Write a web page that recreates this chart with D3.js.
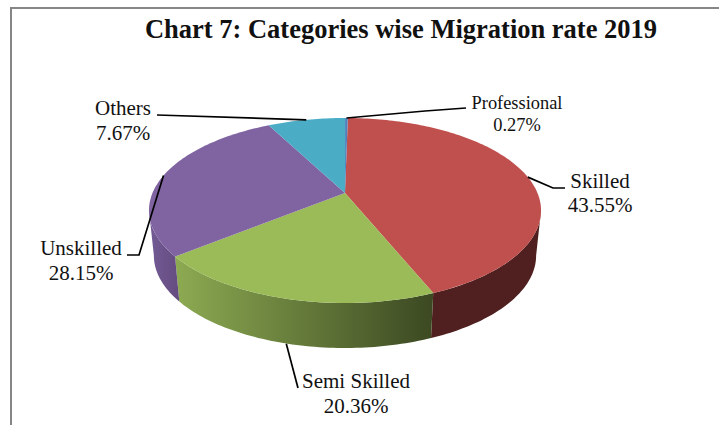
<!DOCTYPE html>
<html>
<head>
<meta charset="utf-8">
<script src="https://cdnjs.cloudflare.com/ajax/libs/d3/7.8.5/d3.min.js"></script>
<style>
  html, body { margin: 0; padding: 0; background: #fff; }
  text { font-family: "Liberation Serif", serif; fill: #111; }
</style>
</head>
<body>
<svg id="chart" width="719" height="425"></svg>
<script>
var CATEGORIES = ['Skilled', 'Semi Skilled', 'Unskilled', 'Others', 'Professional'];
var RATES = [43.55, 20.36, 28.15, 7.67, 0.27];
var TOP_COLORS = ['#c0504d', '#9bbb59', '#8064a2', '#4bacc6', '#4f81bd'];
var SIDE_COLORS = ['#4f201f', 'url(#greenSide)', 'url(#purpleSide)', '#2f7a8f', '#3a5f8c'];

var svg = d3.select('#chart');

// tilted pie: far edge is drawn smaller than the near edge
var cx = 345, cy = 193;
var radiusX = 192.5, radiusY = 89.2, persp = 0.189;
var depth = 45, bottomShrink = 0.975;
var rotation = Math.PI / 180;

function project(a, drop, shrink) {
  var w = 1 + persp * Math.cos(a);
  return [
    cx + shrink * radiusX * Math.sin(a) / w,
    cy + drop - radiusY * Math.cos(a) / w
  ];
}

function samples(a0, a1) {
  var n = Math.max(2, Math.ceil(Math.abs(a1 - a0) / 0.02));
  return d3.range(n + 1).map(function(i) { return a0 + (a1 - a0) * i / n; });
}

var line = d3.line();
var slices = d3.pie().sort(null)
  .startAngle(rotation).endAngle(2 * Math.PI + rotation)
  .value(function(d) { return d; })(RATES);

var defs = svg.append('defs');
function sideGradient(id, x1, x2, from, to) {
  var g = defs.append('linearGradient').attr('id', id)
    .attr('gradientUnits', 'userSpaceOnUse')
    .attr('x1', x1).attr('x2', x2).attr('y1', 0).attr('y2', 0);
  g.append('stop').attr('offset', 0).attr('stop-color', from);
  g.append('stop').attr('offset', 1).attr('stop-color', to);
}
sideGradient('greenSide', 174, 432, '#8dab52', '#3c4922');
sideGradient('purpleSide', 149, 178, '#735b96', '#654c80');

// frame
svg.append('path')
  .attr('d', line([[11, 425], [11, 8], [719, 8]]))
  .attr('fill', 'none').attr('stroke', '#868686').attr('stroke-width', 2);

// side wall, only the near half of the rim shows
var rimStart = Math.acos(-persp), rimEnd = 2 * Math.PI - rimStart;
svg.append('g').selectAll('path').data(slices).enter().append('path')
  .attr('d', function(d) {
    var a0 = Math.max(d.startAngle, rimStart), a1 = Math.min(d.endAngle, rimEnd);
    if (a1 <= a0) return null;
    var upper = samples(a0, a1).map(function(a) { return project(a, 0, 1); });
    var lower = samples(a1, a0).map(function(a) { return project(a, depth, bottomShrink); });
    return line(upper.concat(lower)) + 'Z';
  })
  .attr('fill', function(d, i) { return SIDE_COLORS[i]; });

// top face
svg.append('g').selectAll('path').data(slices).enter().append('path')
  .attr('d', function(d) {
    var pts = samples(d.startAngle, d.endAngle).map(function(a) { return project(a, 0, 1); });
    return line([[cx, cy]].concat(pts)) + 'Z';
  })
  .attr('fill', function(d, i) { return TOP_COLORS[i]; });

// leaders start on the rim at the middle of each slice
var LEADER_BENDS = [
  [[553, 188], [565, 188]],
  [[298, 388]],
  [[139, 255], [127, 255]],
  [[157, 115]],
  [[425, 111], [466, 108]]
];
var LEADER_DROP = [0, 45, 0, 0, 0];

svg.append('g').selectAll('path').data(slices).enter().append('path')
  .attr('d', function(d, i) {
    var mid = (d.startAngle + d.endAngle) / 2;
    return line([project(mid, LEADER_DROP[i], 1)].concat(LEADER_BENDS[i]));
  })
  .attr('fill', 'none').attr('stroke', '#000').attr('stroke-width', 1.7);

// labels
var LABEL_POS = [[600, 188, 21], [356, 388, 21], [81, 255, 21], [123, 115, 21], [517, 109, 18.4]];
var LABEL_GAP = [24, 25, 25, 25, 22];

var labels = svg.append('g').selectAll('text').data(CATEGORIES).enter().append('text')
  .attr('text-anchor', 'middle')
  .attr('font-size', function(_, i) { return LABEL_POS[i][2]; });
labels.append('tspan')
  .attr('x', function(_, i) { return LABEL_POS[i][0]; })
  .attr('y', function(_, i) { return LABEL_POS[i][1]; })
  .text(function(d) { return d; });
labels.append('tspan')
  .attr('x', function(_, i) { return LABEL_POS[i][0]; })
  .attr('y', function(_, i) { return LABEL_POS[i][1] + LABEL_GAP[i]; })
  .text(function(_, i) { return RATES[i].toFixed(2) + '%'; });

svg.append('text')
  .attr('x', 401).attr('y', 38)
  .attr('text-anchor', 'middle')
  .attr('font-size', 26.5).attr('font-weight', 'bold')
  .text('Chart 7: Categories wise Migration rate 2019');
</script>
</body>
</html>
